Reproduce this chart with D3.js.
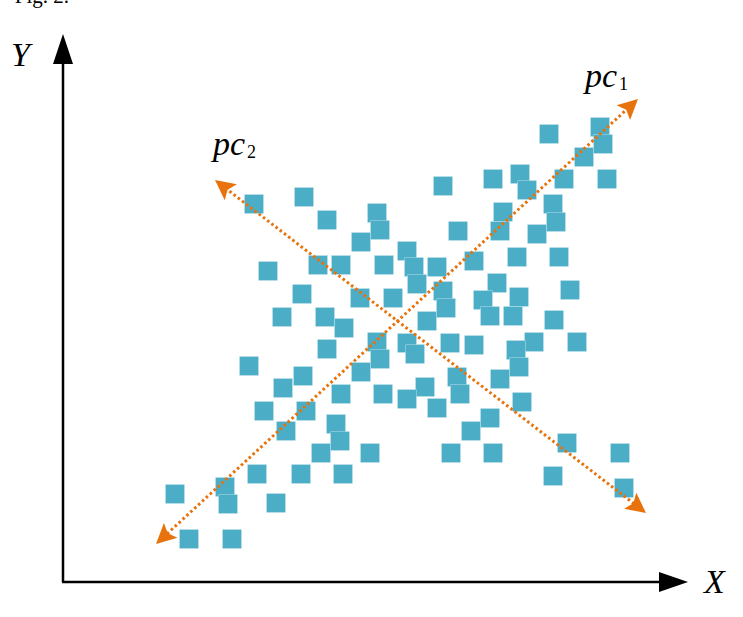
<!DOCTYPE html>
<html>
<head>
<meta charset="utf-8">
<script src="https://cdn.jsdelivr.net/npm/d3@7"></script>
<style>
    body { margin: 0; background: #fff; }
    svg { display: block; }
    .lbl { font-family: "Liberation Serif", "Times New Roman", serif; }
</style>
</head>
<body>
<div id="viz"></div>
<script>
// scatter points, in plot units (x right, y up from origin)
let xs = [486, 537, 540, 521, 544, 501, 457, 430, 464, 380, 490, 493, 474, 440, 437, 395,
    191, 241, 264, 314, 317, 298, 344, 205, 255, 278, 321, 351, 374, 411, 454, 496,
    354, 239, 297, 330, 380, 434, 420, 456, 507, 219, 262, 281, 383, 364, 427, 450,
    491, 264, 314, 317, 344, 352, 387, 411, 471, 453, 456, 514, 186, 240, 220, 298,
    394, 397, 362, 437, 278, 320, 344, 374, 459, 201, 243, 273, 277, 223, 408, 427,
    504, 258, 307, 388, 430, 557, 194, 238, 280, 490, 112, 162, 165, 213, 561, 126, 169];
let ys = [448, 455, 438, 425, 403, 403, 408, 403, 392, 396, 378, 360, 348, 370, 351, 351,
    378, 385, 362, 369, 352, 340, 331, 311, 317, 317, 317, 315, 315, 321, 325, 325,
    298, 288, 284, 284, 291, 299, 282, 285, 292, 265, 265, 254, 274, 261, 266, 266,
    262, 233, 240, 223, 239, 228, 239, 237, 240, 232, 215, 240, 216, 206, 194, 210,
    205, 188, 195, 203, 188, 188, 183, 174, 180, 171, 171, 158, 141, 151, 151, 164,
    139, 129, 129, 129, 129, 129, 108, 108, 108, 106, 88, 95, 78, 79, 94, 43, 43];

// principal component axes: [x1, y1, x2, y2]
let pcNames = ["pc1", "pc2"];
let pcLines = [[93, 38, 575, 483], [583, 69, 152, 402]];

let width = 743, height = 617;
let x = d3.scaleLinear().domain([0, 625]).range([63, 688]);
let y = d3.scaleLinear().domain([0, 548]).range([582, 34]);

let orange = "#e8720c";
let blue = "#4badc6";

let svg = d3.select("#viz")
    .append("svg")
    .attr("width", width)
    .attr("height", height);

// cut-off caption at the top
svg.append("text")
    .attr("class", "lbl")
    .attr("x", 69).attr("y", 3)
    .attr("text-anchor", "end")
    .style("font-size", "21px")
    .text("Fig. 2.");

// axes
let ax = svg.append("g");
ax.append("line")
    .attr("x1", x(0)).attr("y1", y(0))
    .attr("x2", x(0)).attr("y2", y(518))
    .attr("stroke", "black").attr("stroke-width", 2.5);
ax.append("line")
    .attr("x1", x(0) - 1).attr("y1", y(0))
    .attr("x2", x(596)).attr("y2", y(0))
    .attr("stroke", "black").attr("stroke-width", 2.5);
// arrow heads
ax.append("path")
    .attr("d", d3.line()([[x(0), y(548)], [x(0) - 10, y(518)], [x(0) + 10, y(518)]]))
    .attr("fill", "black");
ax.append("path")
    .attr("d", d3.line()([[x(625), y(0)], [x(596), y(0) - 10], [x(596), y(0) + 10]]))
    .attr("fill", "black");

svg.append("text").attr("class", "lbl")
    .attr("x", 11).attr("y", 66)
    .style("font-size", "34px").style("font-style", "italic")
    .text("Y");
svg.append("text").attr("class", "lbl")
    .attr("x", 704).attr("y", 593)
    .style("font-size", "34px").style("font-style", "italic")
    .text("X");

// squares
let sz = 18.6;
svg.append("g")
    .selectAll("rect")
    .data(xs.map((v, i) => [v, ys[i]]))
    .enter()
    .append("rect")
    .attr("x", d => x(d[0]) - sz / 2)
    .attr("y", d => y(d[1]) - sz / 2)
    .attr("width", sz)
    .attr("height", sz)
    .attr("fill", blue)
    .attr("stroke", "#a9d8e4")
    .attr("stroke-width", 0.6);

// pc axes with arrows on both ends
let headLen = 20, headHalf = 10;
function arrowHead(tip, dir) {
    // dir: unit vector pointing toward the tip
    let bx = tip[0] - dir[0] * headLen, by = tip[1] - dir[1] * headLen;
    let nx = -dir[1], ny = dir[0];
    let notchX = tip[0] - dir[0] * headLen * 0.8, notchY = tip[1] - dir[1] * headLen * 0.8;
    return d3.line()([tip, [bx + nx * headHalf, by + ny * headHalf], [notchX, notchY],
        [bx - nx * headHalf, by - ny * headHalf]]) + "Z";
}

let pcG = svg.append("g");
pcLines.forEach(l => {
    let p1 = [x(l[0]), y(l[1])], p2 = [x(l[2]), y(l[3])];
    let dx = p2[0] - p1[0], dy = p2[1] - p1[1];
    let len = Math.sqrt(dx * dx + dy * dy);
    let u = [dx / len, dy / len];
    let inset = headLen * 0.75;
    pcG.append("line")
        .attr("x1", p1[0] + u[0] * inset).attr("y1", p1[1] + u[1] * inset)
        .attr("x2", p2[0] - u[0] * inset).attr("y2", p2[1] - u[1] * inset)
        .attr("stroke", orange)
        .attr("stroke-width", 3)
        .attr("stroke-dasharray", "2.6 2.7");
    pcG.append("path").attr("d", arrowHead(p2, u)).attr("fill", orange);
    pcG.append("path").attr("d", arrowHead(p1, [-u[0], -u[1]])).attr("fill", orange);
});

// pc labels
let pcPos = [[522, 495], [150, 427]];
pcNames.forEach((n, i) => {
    let t = svg.append("text").attr("class", "lbl")
        .attr("x", x(pcPos[i][0])).attr("y", y(pcPos[i][1]))
        .style("font-size", "34px");
    t.append("tspan").style("font-style", "italic").text("pc");
    t.append("tspan").attr("dx", 2).attr("dy", 3).style("font-size", "18px").text(n.slice(2));
});
</script>
</body>
</html>
